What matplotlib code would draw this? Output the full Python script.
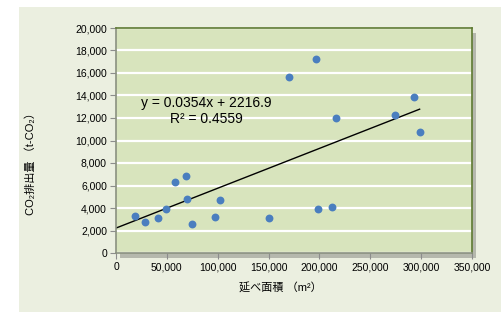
import matplotlib.pyplot as plt
from matplotlib.patches import Rectangle
import numpy as np

plt.rcParams['font.family'] = ['Liberation Sans', 'Noto Sans CJK JP', 'DejaVu Sans']

# floor area (m2) and CO2 emissions (t-CO2)
area = [19000, 28500, 41000, 49000, 57700, 68500, 70100, 74400, 97000, 102200,
        150100, 198900, 212600, 170400, 196900, 216000, 274300, 292700, 298500]
co2 = [3290, 2780, 3140, 3910, 6280, 6840, 4830, 2610, 3230, 4740,
       3080, 3940, 4120, 15640, 17240, 12030, 12270, 13840, 10730]

slope = 0.0354
intercept = 2216.9
r2 = 0.4559

W, H = 501, 312
fig = plt.figure(figsize=(W / 100, H / 100), dpi=100)
fig.patch.set_facecolor('white')

# outer chart area
fig.patches.append(Rectangle((19 / W, 0), 1 - 19 / W, 1 - 7 / H, transform=fig.transFigure,
                             facecolor='#ebefe0', edgecolor='none', zorder=0))

left, right, top, bottom = 116, 472, 28, 253
# shadow behind plot area
fig.patches.append(Rectangle(((left + 4) / W, 1 - (bottom + 5) / H), (right - left) / W,
                             (bottom - top) / H, transform=fig.transFigure,
                             facecolor='#b5b8ad', edgecolor='none', zorder=0.5))

ax = fig.add_axes([left / W, 1 - bottom / H, (right - left) / W, (bottom - top) / H])
ax.set_zorder(2)
ax.set_facecolor('#d8e4bd')
ax.set_xlim(0, 350000)
ax.set_ylim(0, 20000)

ax.set_yticks(np.arange(0, 20001, 2000))
ax.set_xticks(np.arange(0, 350001, 50000))
ax.yaxis.grid(True, color='white', linewidth=1.6)
ax.set_axisbelow(True)
ax.tick_params(labelsize=7.5, color='#8c8c8c', length=4, width=0.8, pad=2.5)
ax.yaxis.set_major_formatter(plt.FuncFormatter(lambda v, p: f'{int(v):,}'))
ax.xaxis.set_major_formatter(plt.FuncFormatter(lambda v, p: f'{int(v):,}'))

for s in ['top', 'right']:
    ax.spines[s].set_color('#5e7a32')
    ax.spines[s].set_linewidth(1.2)
for s in ['left', 'bottom']:
    ax.spines[s].set_color('#8a9180')
    ax.spines[s].set_linewidth(1.2)

ax.scatter(area, co2, s=32, color='#4a7ebf', zorder=3, linewidths=0)

xl = np.array([0, max(area)])
ax.plot(xl, slope * xl + intercept, color='black', linewidth=1, zorder=2)

ax.text(89000, 13300, f'y = {slope}x + {intercept}', fontsize=10, ha='center', va='center')
ax.text(89000, 11950, f'R² = {r2}', fontsize=10, ha='center', va='center')

fig.text(280 / W, 1 - 288 / H, '延べ面積 （m²）', fontsize=8, ha='center', va='center')
fig.text(31 / W, 1 - 161 / H, 'CO₂排出量 （t-CO₂）', fontsize=8, ha='center', va='center',
         rotation=90)

fig.savefig('out.png', dpi=100)
